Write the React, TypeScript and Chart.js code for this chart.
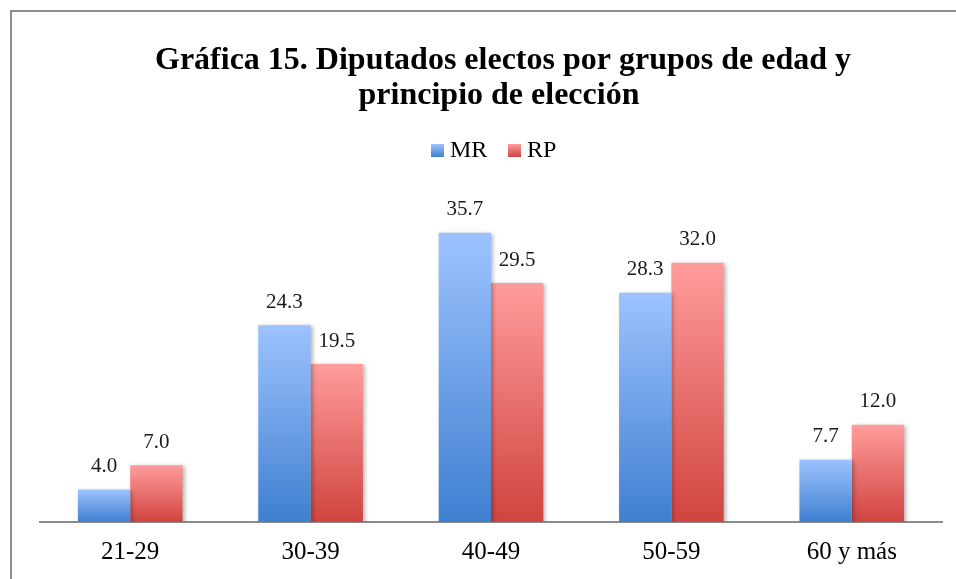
import React, { useEffect, useRef } from "react";
import { Chart, registerables } from "chart.js";

Chart.register(...registerables);

const categories = ["21-29", "30-39", "40-49", "50-59", "60 y más"];
const mrValues = [4.0, 24.3, 35.7, 28.3, 7.7];
const rpValues = [7.0, 19.5, 29.5, 32.0, 12.0];
const seriesNames = ["MR", "RP"];
const titleLines = ["Gráfica 15. Diputados electos por grupos de edad y", "principio de elección"];

const SERIF = "'Liberation Serif', 'Times New Roman', serif";
const MR_TOP = "#9DC3FF";
const MR_BOTTOM = "#3F7FD0";
const RP_TOP = "#FF9C9C";
const RP_BOTTOM = "#D0443F";

function barGradient(ctx: any, top: string, bottom: string) {
  const chart = ctx.chart;
  const ys = chart.scales?.y;
  if (!ys || ctx.parsed == null) return top;
  const y0 = ys.getPixelForValue(ctx.parsed.y);
  const y1 = ys.getPixelForValue(0);
  if (!isFinite(y0) || !isFinite(y1) || y0 === y1) return top;
  const g = chart.ctx.createLinearGradient(0, y0, 0, y1);
  g.addColorStop(0, top);
  g.addColorStop(1, bottom);
  return g;
}

const decorPlugin = {
  id: "decor",
  beforeDraw(chart: any) {
    const ctx = chart.ctx;
    ctx.save();
    ctx.fillStyle = "#ffffff";
    ctx.fillRect(0, 0, chart.width, chart.height);
    // frame (left + top)
    ctx.strokeStyle = "#8c8c8c";
    ctx.lineWidth = 2;
    ctx.beginPath();
    ctx.moveTo(11, chart.height + 5);
    ctx.lineTo(11, 11);
    ctx.lineTo(chart.width + 5, 11);
    ctx.stroke();
    // title
    ctx.fillStyle = "#000000";
    ctx.font = `bold 32px ${SERIF}`;
    ctx.textAlign = "center";
    ctx.textBaseline = "middle";
    ctx.fillText(titleLines[0], 503, 61);
    ctx.fillText(titleLines[1], 499, 96);
    // legend
    ctx.font = `24px ${SERIF}`;
    ctx.textAlign = "left";
    const legendItems = [
      { x: 431, name: seriesNames[0], top: MR_TOP, bottom: MR_BOTTOM },
      { x: 508, name: seriesNames[1], top: RP_TOP, bottom: RP_BOTTOM },
    ];
    legendItems.forEach((it) => {
      const g = ctx.createLinearGradient(0, 144, 0, 157);
      g.addColorStop(0, it.top);
      g.addColorStop(1, it.bottom);
      ctx.fillStyle = g;
      ctx.fillRect(it.x, 144, 13, 13);
      ctx.fillStyle = "#000000";
      ctx.fillText(it.name, it.x + 19, 151);
    });
    ctx.restore();
  },
  beforeDatasetsDraw(chart: any) {
    const ctx = chart.ctx;
    ctx.save();
    ctx.shadowColor = "rgba(0,0,0,0.28)";
    ctx.shadowBlur = 4;
    ctx.shadowOffsetX = 2;
    ctx.shadowOffsetY = 1;
  },
  afterDatasetsDraw(chart: any) {
    const ctx = chart.ctx;
    ctx.restore();
    ctx.save();
    ctx.fillStyle = "#1a1a1a";
    ctx.font = `21px ${SERIF}`;
    ctx.textAlign = "center";
    ctx.textBaseline = "middle";
    chart.data.datasets.forEach((ds: any, di: number) => {
      const meta = chart.getDatasetMeta(di);
      meta.data.forEach((el: any, i: number) => {
        ctx.fillText(Number(ds.data[i]).toFixed(1), el.x, el.y - 23);
      });
    });
    ctx.restore();
  },
};

export default function App() {
  const ref = useRef<HTMLCanvasElement>(null);
  useEffect(() => {
    if (!ref.current) return;
    const chart = new Chart(ref.current, {
      type: "bar",
      data: {
        labels: categories,
        datasets: [
          {
            label: seriesNames[0],
            data: mrValues,
            backgroundColor: (c: any) => barGradient(c, MR_TOP, MR_BOTTOM),
            borderWidth: 0,
          },
          {
            label: seriesNames[1],
            data: rpValues,
            backgroundColor: (c: any) => barGradient(c, RP_TOP, RP_BOTTOM),
            borderWidth: 0,
          },
        ],
      },
      options: {
        responsive: false,
        animation: false,
        devicePixelRatio: 1,
        layout: { padding: { left: 40, right: 14, top: 198, bottom: 0 } },
        plugins: {
          legend: { display: false },
          title: { display: false },
          tooltip: { enabled: false },
        },
        datasets: {
          bar: { barPercentage: 1, categoryPercentage: 0.58 },
        },
        scales: {
          x: {
            grid: { display: false, drawTicks: false },
            border: { display: true, color: "#8c8c8c", width: 2 },
            ticks: {
              color: "#000000",
              font: { family: SERIF, size: 25 },
              padding: 15,
            },
            afterFit: (scale: any) => {
              scale.height = 57;
            },
          },
          y: {
            display: false,
            min: 0,
            max: 40,
          },
        },
      },
      plugins: [decorPlugin],
    });
    return () => chart.destroy();
  }, []);
  return (
    <canvas
      ref={ref}
      width={956}
      height={579}
      style={{ position: "fixed", left: 0, top: 0, width: 956, height: 579 }}
    />
  );
}
